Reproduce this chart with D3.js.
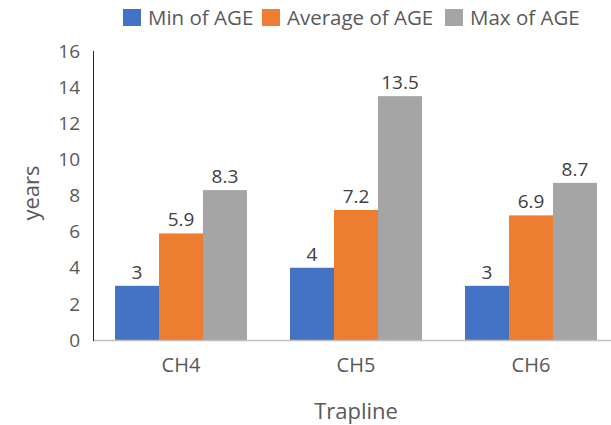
<!DOCTYPE html>
<html><head><meta charset="utf-8">
<script src="https://cdn.jsdelivr.net/npm/d3@7"></script>
<style>body{margin:0;background:#fff;} text{font-family:"Open Sans","Noto Sans",sans-serif;}</style>
</head><body>
<svg id="c" width="611" height="425"></svg>
<script>
const categories = ["CH4", "CH5", "CH6"];
const seriesNames = ["Min of AGE", "Average of AGE", "Max of AGE"];
const minAge = [3, 4, 3];
const avgAge = [5.9, 7.2, 6.9];
const maxAge = [8.3, 13.5, 8.7];
const yTicks = [0, 2, 4, 6, 8, 10, 12, 14, 16];
const colors = ["#4472C4", "#ED7D31", "#A5A5A5"];

const series = [minAge, avgAge, maxAge];
const svg = d3.select("#c");
const x0 = 93.5, yTop = 51, yBot = 340;
const x = d3.scaleBand().domain(categories).range([x0, x0 + 525]).paddingInner(0.246).paddingOuter(0.123);
const xs = d3.scaleBand().domain(seriesNames).range([0, x.bandwidth()]);
const y = d3.scaleLinear().domain([0, 16]).range([yBot, yTop]);

// bars
categories.forEach((c, ci) => {
  seriesNames.forEach((s, si) => {
    const v = series[si][ci];
    svg.append("rect").attr("x", x(c) + xs(s)).attr("y", y(v))
      .attr("width", xs.bandwidth()).attr("height", y(0) - y(v)).attr("fill", colors[si]);
    svg.append("text").attr("x", x(c) + xs(s) + xs.bandwidth() / 2).attr("y", y(v) - 7)
      .attr("text-anchor", "middle").attr("font-size", 19).attr("fill", "#404040").text(v);
  });
});

// x axis line
svg.append("line").attr("x1", x0).attr("x2", 611).attr("y1", yBot + 0.5).attr("y2", yBot + 0.5)
  .attr("stroke", "#BFBFBF").attr("stroke-width", 1.5);
// y axis line
svg.append("line").attr("x1", x0).attr("x2", x0).attr("y1", yTop).attr("y2", yBot + 1)
  .attr("stroke", "#262626").attr("stroke-width", 1);

// y tick labels
svg.selectAll(".yt").data(yTicks).enter().append("text")
  .attr("x", 80).attr("y", d => y(d)).attr("dy", "0.35em").attr("text-anchor", "end")
  .attr("font-size", 19).attr("fill", "#595959").text(d => d);

// x tick labels
svg.selectAll(".xt").data(categories).enter().append("text")
  .attr("x", d => x(d) + x.bandwidth() / 2).attr("y", 365).attr("dy", "0.35em")
  .attr("text-anchor", "middle").attr("font-size", 20).attr("fill", "#595959").text(d => d);

// axis titles
svg.append("text").attr("x", 356).attr("y", 411).attr("dy", "0.35em").attr("text-anchor", "middle")
  .attr("font-size", 22).attr("fill", "#595959").text("Trapline");
svg.append("text").attr("transform", "translate(31,193) rotate(-90)").attr("dy", "0.35em")
  .attr("text-anchor", "middle").attr("font-size", 22).attr("fill", "#595959").text("years");

// legend
const legX = [123, 262, 445];
seriesNames.forEach((s, i) => {
  svg.append("rect").attr("x", legX[i]).attr("y", 9).attr("width", 18).attr("height", 17).attr("fill", colors[i]);
  svg.append("text").attr("x", legX[i] + 25).attr("y", 18).attr("dy", "0.35em")
    .attr("font-size", 20.5).attr("fill", "#595959").text(s);
});
</script>
</body></html>
